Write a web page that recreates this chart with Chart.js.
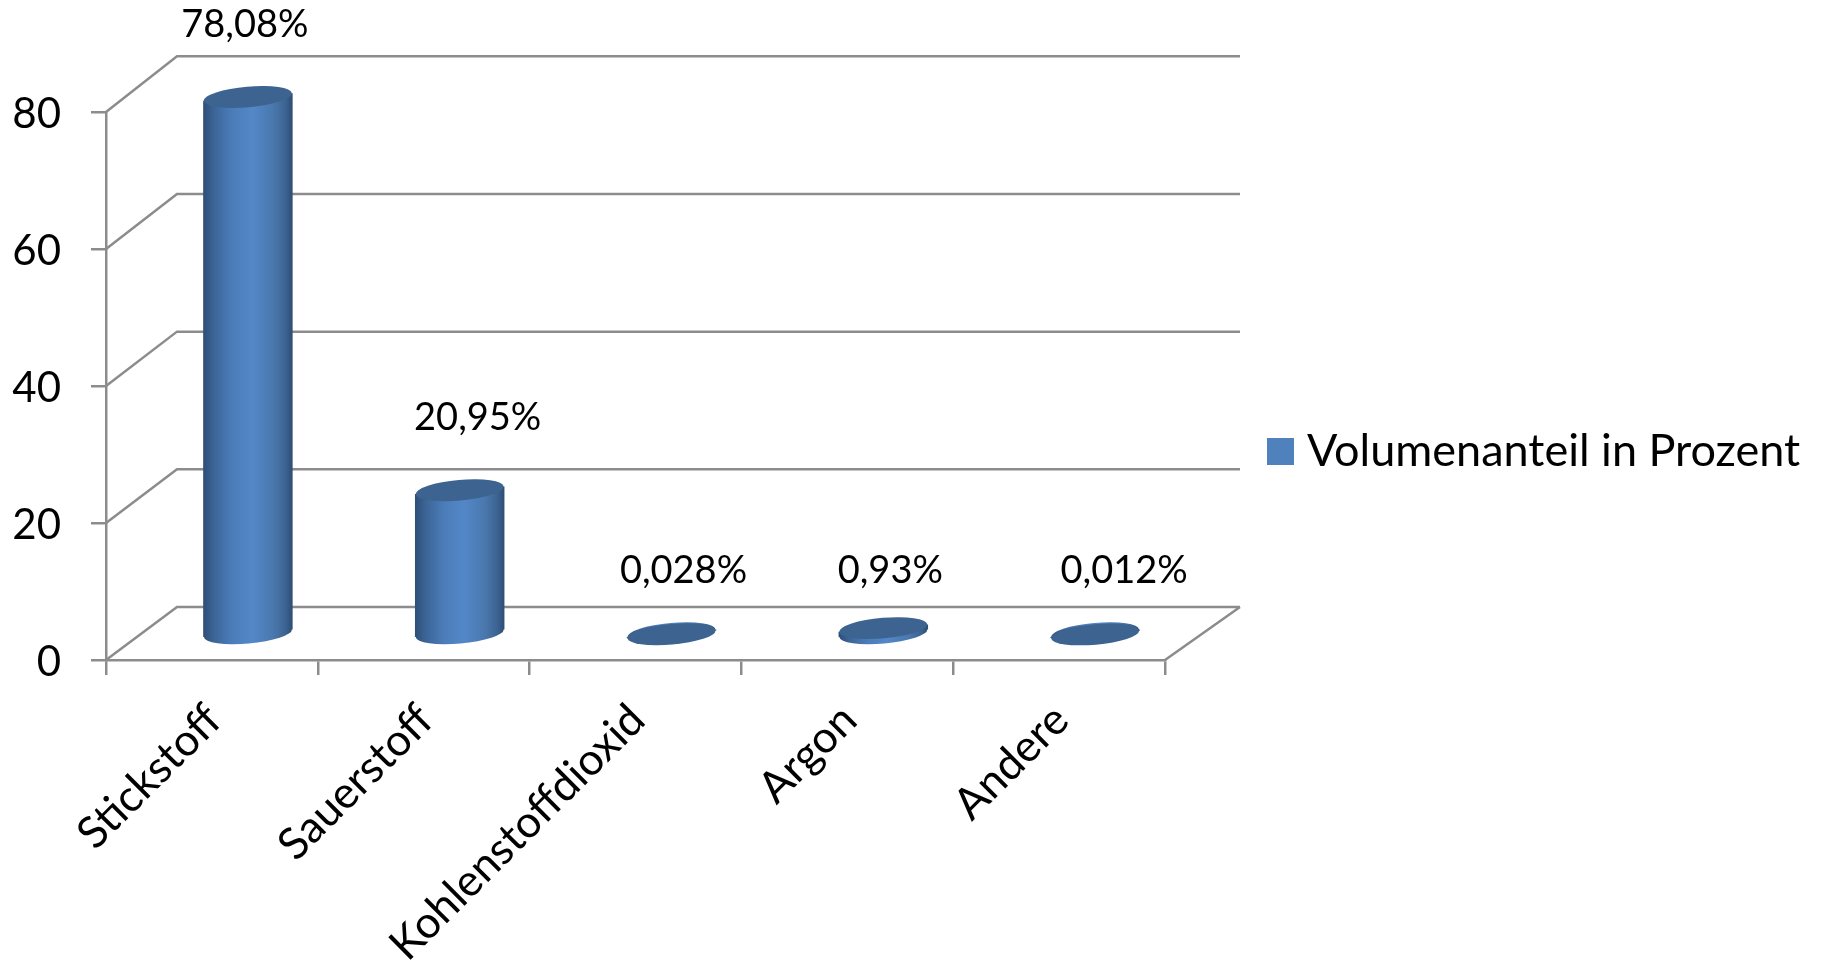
<!DOCTYPE html>
<html lang="de">

<head>
    <meta charset="UTF-8" />
    <title>Volumenanteil in Prozent</title>
    <script src="https://cdn.jsdelivr.net/npm/chart.js"></script>
    <style>
        body {
            background-color: #fff;
            margin: 0;
        }

        canvas {
            display: block;
        }
    </style>
</head>

<body>
    <canvas id="chart" width="1822" height="965"></canvas>

    <script>
        const categories = ["Stickstoff", "Sauerstoff", "Kohlenstoffdioxid", "Argon", "Andere"];
        const seriesName = "Volumenanteil in Prozent";
        const seriesValues = [78.08, 20.95, 0.028, 0.93, 0.012];
        const valueLabels = ["78,08%", "20,95%", "0,028%", "0,93%", "0,012%"];
        const yMax = 80;
        const yStep = 20;

        const fontFamily = "Lato";
        const gray = "#8c8c8c";
        const barColor = "#4f81bd";
        // depth of the fake 3D floor, in px
        const depthX = 71;
        const depthY = 53;
        // the back wall is a touch taller than the front, slight perspective
        const wallStretch = 0.005;
        // the labels were moved by hand in the original, so shift them from the bar top
        const labelShiftX = [33, 54, 48, 43, 65];
        const labelShiftY = [-100, -99, -89, -83, -89];

        // legend swatch as an image, the default box leaves too wide a gap before the text
        const swatch = document.createElement("canvas");
        swatch.width = 27;
        swatch.height = 27;
        const swatchCtx = swatch.getContext("2d");
        swatchCtx.fillStyle = barColor;
        swatchCtx.fillRect(0, 0, 27, 27);

        // bars are drawn as tilted cylinders standing in the middle of the floor
        Chart.BarElement.prototype.draw = function (ctx) {
            const { x, y, base, width } = this.getProps(["x", "y", "base", "width"], true);
            const cx = x + depthX / 2 + 0.5;
            const baseY = base - depthY / 2 + 1;
            const topY = y - depthY / 2 + 1 - (base - y) * wallStretch;
            const a = width / 2 * 0.987;
            const b = width * 0.115;
            const tilt = -5 * Math.PI / 180;
            const left = cx - width / 2;
            const right = cx + width / 2;

            const grad = ctx.createLinearGradient(left, 0, right, 0);
            grad.addColorStop(0, "#2d4e76");
            grad.addColorStop(0.12, "#3c6597");
            grad.addColorStop(0.33, "#4c7dba");
            grad.addColorStop(0.55, "#5387c7");
            grad.addColorStop(0.78, "#4a78ae");
            grad.addColorStop(0.92, "#3c6492");
            grad.addColorStop(1, "#2d4c72");

            ctx.save();
            ctx.fillStyle = grad;
            ctx.beginPath();
            ctx.moveTo(left, topY + 3.7);
            ctx.lineTo(right, topY - 3.7);
            ctx.lineTo(right, baseY - 3.7);
            ctx.lineTo(left, baseY + 3.7);
            ctx.closePath();
            ctx.fill();
            ctx.beginPath();
            ctx.ellipse(cx, baseY, a, b, tilt, 0, Math.PI * 2);
            ctx.fill();

            ctx.fillStyle = "#3d6391";
            ctx.beginPath();
            ctx.ellipse(cx, topY, a, b, tilt, 0, Math.PI * 2);
            ctx.fill();
            ctx.restore();
        };

        const wallPlugin = {
            id: "wall",
            beforeDraw(chart) {
                // legend sits by itself right of the plot
                chart.legend.left = 1256.5;
                chart.legend.right = 1822;
                chart.legend.top = 408.5;
                chart.legend.bottom = 600;
            },
            beforeDatasetsDraw(chart) {
                const { ctx, scales: { x, y } } = chart;
                ctx.save();
                ctx.strokeStyle = gray;
                ctx.lineWidth = 2.5;
                ctx.beginPath();
                y.ticks.forEach((tick, i) => {
                    const py = y.getPixelForTick(i);
                    const backY = py - depthY - (y.bottom - py) * wallStretch;
                    ctx.moveTo(x.left, py);
                    ctx.lineTo(x.left + depthX, backY);
                    ctx.lineTo(x.right + depthX + 4, backY);
                });
                ctx.moveTo(x.right, y.bottom);
                ctx.lineTo(x.right + depthX + 4, y.bottom - depthY);
                ctx.stroke();
                ctx.restore();
            },
            afterDatasetsDraw(chart) {
                const { ctx } = chart;
                const bars = chart.getDatasetMeta(0).data;
                ctx.save();
                ctx.fillStyle = "#000";
                ctx.font = `38px ${fontFamily}`;
                ctx.textAlign = "center";
                ctx.textBaseline = "middle";
                bars.forEach((bar, i) => {
                    ctx.fillText(valueLabels[i], bar.x + labelShiftX[i], bar.y + labelShiftY[i]);
                });
                ctx.restore();
            }
        };

        new Chart(document.getElementById("chart"), {
            type: "bar",
            data: {
                labels: categories,
                datasets: [{
                    label: seriesName,
                    data: seriesValues,
                    backgroundColor: barColor,
                    borderWidth: 0,
                    barPercentage: 0.6,
                    categoryPercentage: 0.704,
                    clip: false
                }]
            },
            options: {
                animation: false,
                responsive: false,
                layout: { padding: { left: 0, top: 112, right: 657, bottom: 0 } },
                scales: {
                    x: {
                        afterFit(s) {
                            s.height = 305;
                            s.paddingLeft = 0;
                            s.paddingRight = 0;
                        },
                        border: { color: gray, width: 2.5 },
                        grid: { color: gray, lineWidth: 2.5, drawOnChartArea: false, tickLength: 15 },
                        ticks: {
                            color: "#000",
                            font: { family: fontFamily, size: 44 },
                            minRotation: 45,
                            maxRotation: 45,
                            autoSkip: false,
                            padding: 19,
                            labelOffset: 2
                        }
                    },
                    y: {
                        min: 0,
                        max: yMax,
                        afterFit(s) {
                            s.width = 106;
                            s.paddingTop = 0;
                            s.paddingBottom = 0;
                        },
                        border: { color: gray, width: 2.5 },
                        grid: { color: gray, lineWidth: 2.5, drawOnChartArea: false, tickLength: 15 },
                        ticks: {
                            stepSize: yStep,
                            color: "#000",
                            font: { family: fontFamily, size: 42 },
                            padding: 30,
                            labelOffset: 2
                        }
                    }
                },
                plugins: {
                    legend: {
                        position: "chartArea",
                        align: "start",
                        labels: {
                            usePointStyle: true,
                            pointStyle: swatch,
                            pointStyleWidth: 8,
                            padding: 20,
                            color: "#000",
                            font: { family: fontFamily, size: 45 }
                        }
                    },
                    tooltip: { enabled: false }
                }
            },
            plugins: [wallPlugin]
        });
    </script>
</body>

</html>
